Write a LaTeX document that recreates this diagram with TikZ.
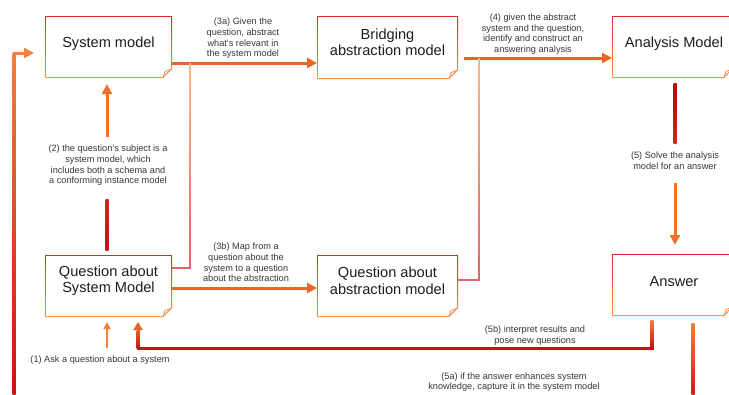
\documentclass[tikz,border=0pt]{standalone}
\usepackage{fontspec}
\setmainfont{Liberation Sans}
\usetikzlibrary{arrows.meta,calc,backgrounds}

\definecolor{boxtop}{RGB}{222,40,40}
\definecolor{boxbot}{RGB}{246,152,88}
\definecolor{boxink}{RGB}{30,30,30}
\definecolor{labelgray}{RGB}{55,55,55}
\definecolor{flowor}{RGB}{232,100,40}
\definecolor{flowred}{RGB}{200,16,20}
\definecolor{deepred}{RGB}{190,0,10}
\definecolor{midred}{RGB}{214,36,28}
\definecolor{softor}{RGB}{240,128,58}
\definecolor{stepor}{RGB}{236,114,44}
\definecolor{thintop}{RGB}{247,184,148}
\definecolor{thinbot}{RGB}{226,100,100}

% document frame with dog-ear corner, border shaded from red (top) to orange (bottom)
\newcommand\docframe[1]{%
  \shade[top color=boxtop, bottom color=boxbot]
    (#1.north west) -- (#1.north east) -- ($(#1.south east)+(0,-9)$)
    -- ($(#1.south east)+(-9,0)$) -- (#1.south west) -- cycle;
  \fill[white]
    ($(#1.north west)+(1.2,1.2)$) -- ($(#1.north east)+(-1.2,1.2)$)
    -- ($(#1.south east)+(-1.2,-9.5)$) -- ($(#1.south east)+(-9.5,-1.2)$)
    -- ($(#1.south west)+(1.2,-1.2)$) -- cycle;
  \draw[boxbot, line width=0.9pt, line join=round]
    ($(#1.south east)+(0,-9)$) -- ($(#1.south east)+(-7,-6.5)$) -- ($(#1.south east)+(-9,0)$);
}
% vertical connector piece with a colour gradient: top point, bottom point, top colour, bottom colour, half width
\newcommand\vgrad[5]{%
  \shade[top color=#3, bottom color=#4] ($(#1)+(-#5,0)$) rectangle ($(#2)+(#5,0)$);
}

\begin{document}
\begin{tikzpicture}[x=1pt,y=-1pt,
  docbox/.style={rectangle, draw=none, inner sep=0pt, outer sep=0pt},
  boxtext/.style={font=\fontsize{14.6}{16.5}\selectfont, text=boxink, align=center, inner sep=0pt},
  flowlabel/.style={font=\fontsize{9.2}{10.6}\selectfont, text=labelgray, align=center, inner sep=0pt},
  thickflow/.style={line width=3pt, draw=flowor, -{Triangle[length=10pt,width=10pt]}},
  thinflow/.style={line width=1.5pt, draw=softor, -{Triangle[length=7pt,width=7pt]}},
  thinline/.style={line width=1.5pt, draw=thinbot},
]
\useasboundingbox (0,0) rectangle (729,394);

% boxes
\node[docbox, minimum width=127pt, minimum height=62pt,
  label={[boxtext,yshift=3pt]center:System model}] (sm) at (108.5,47) {};
\node[docbox, minimum width=141pt, minimum height=63pt,
  label={[boxtext,yshift=5pt]center:{Bridging\\abstraction model}}] (bam) at (387.5,47.5) {};
\node[docbox, minimum width=121pt, minimum height=62pt,
  label={[boxtext,yshift=3pt,xshift=1.5pt]center:Analysis Model}] (am) at (672.5,47) {};
\node[docbox, minimum width=127pt, minimum height=62pt,
  label={[boxtext,yshift=5.5pt]center:{Question about\\System Model}}] (qsm) at (108.5,286) {};
\node[docbox, minimum width=141pt, minimum height=62pt,
  label={[boxtext,yshift=5pt]center:{Question about\\abstraction model}}] (qam) at (387.5,286) {};
\node[docbox, minimum width=121pt, minimum height=62pt,
  label={[boxtext,yshift=3pt,xshift=1.5pt]center:Answer}] (ans) at (672.5,285) {};

% step labels
\node[flowlabel] (n3a) at (243,38.5) {(3a) Given the\\question, abstract\\what’s relevant in\\the system model};
\node[flowlabel] (n4) at (533,34) {(4) given the abstract\\system and the question,\\identify and construct an\\answering analysis};
\node[flowlabel] (n2) at (108,165.5) {(2) the question’s subject is a\\system model, which\\includes both a schema and\\a conforming instance model};
\node[flowlabel] (n3b) at (246,262.5) {(3b) Map from a\\question about the\\system to a question\\about the abstraction};
\node[flowlabel] (n5) at (675,161) {(5) Solve the analysis\\model for an answer};
\node[flowlabel] (n1) at (100,360) {(1) Ask a question about a system};
\node[flowlabel] (n5b) at (535,335.5) {(5b) interpret results and\\pose new questions};
\node[flowlabel] (n5a) at (514,382) {(5a) if the answer enhances system\\knowledge, capture it in the system model};

% page and frames
\begin{scope}[on background layer]
  \fill[white] (0,0) rectangle (729,394);
  \foreach \b in {sm,bam,am,qsm,qam,ans} {\docframe{\b}}
\end{scope}

% (3a) system model -> bridging abstraction model, with branch to the question
\coordinate (a3) at ($(sm.east)+(0,16)$);
\draw[thickflow] (a3) -- (a3 -| bam.west);
\coordinate (a3b) at ($(a3)+(18,0)$);
\coordinate (q3) at ($(qsm.east)+(0,-18)$);
\coordinate (a3c) at (a3b |- q3);
\vgrad{a3b}{$(a3c)+(0,0.75)$}{thintop}{thinbot}{0.75}
\draw[thinline] (a3c) -- (q3);

% (3b) question about system -> question about abstraction
\coordinate (b3) at ($(qsm.east)+(0,2)$);
\draw[thickflow] (b3) -- (b3 -| qam.west);

% (4) bridging abstraction -> analysis model, with branch to the abstraction question
\coordinate (f4) at ($(bam.east)+(6,10.5)$);
\draw[thickflow] (f4) -- (f4 -| am.west);
\coordinate (f4b) at ($(f4)+(15,0)$);
\coordinate (q4) at ($(qam.east)+(0,-6)$);
\coordinate (f4c) at (f4b |- q4);
\vgrad{f4b}{$(f4c)+(0,0.75)$}{thintop}{thinbot}{0.75}
\draw[thinline] (f4c) -- (q4);

% (5) analysis model -> answer
\coordinate (s5t) at ($(am.south)+(2.5,5)$);
\coordinate (s5m) at ($(s5t)+(0,60)$);
\vgrad{s5t}{s5m}{deepred}{midred}{1.5}
\draw[thickflow, draw=stepor] ($(s5t)+(0,100)$) -- ($(ans.north)+(2.5,-9)$);

% (2) question about system -> system model
\coordinate (t2a) at ($(qsm.north)+(-1.5,-5)$);
\coordinate (t2b) at ($(t2a)+(0,-51)$);
\vgrad{t2b}{t2a}{midred}{flowred}{1.5}
\draw[thickflow, draw=stepor] ($(sm.south)+(-1.5,59)$) -- ($(sm.south)+(-1.5,6)$);

% (1) ask a question
\draw[thinflow] ($(qsm.south)+(-1.5,31)$) -- ($(qsm.south)+(-1.5,5)$);

% (5b) answer -> question about system
\coordinate (r5a) at ($(ans.south)+(-20.5,4)$);
\coordinate (r5b) at ($(r5a)+(0,28)$);
\coordinate (r5d) at ($(qsm.south)+(29.5,5)$);
\coordinate (r5c) at (r5d |- r5b);
\vgrad{r5a}{r5b}{softor}{flowred}{1.5}
\draw[flowred, line width=3pt, line cap=rect] (r5b) -- (r5c);
\vgrad{$(r5d)+(0,8)$}{r5c}{flowor}{flowred}{1.5}
\draw[line width=3pt, draw=flowor, -{Triangle[length=8pt,width=9pt]}] ($(r5d)+(0,9)$) -- (r5d);

% (5a) answer -> system model, around the outside
\coordinate (k5a) at ($(ans.south)+(20.5,7)$);
\coordinate (k5b) at ($(k5a)+(0,80)$);
\coordinate (k5e) at ($(sm.west)+(-11,6)$);
\coordinate (k5d) at ($(k5e)+(-20,0)$);
\coordinate (k5c) at (k5d |- k5b);
\vgrad{k5a}{k5b}{softor}{flowred}{1.5}
\draw[flowred, line width=3pt, line cap=rect] (k5b) -- (k5c);
\vgrad{k5d}{k5c}{softor}{flowred}{1.5}
\draw[line width=3pt, draw=softor, -{Triangle[length=10pt,width=10pt]}] ($(k5d)+(-1.5,0)$) -- (k5e);

\end{tikzpicture}
\end{document}
